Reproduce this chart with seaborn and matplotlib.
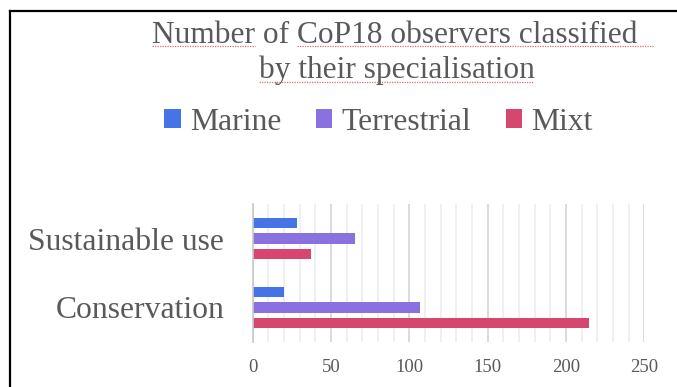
import matplotlib
matplotlib.use("Agg")
import matplotlib.pyplot as plt
from matplotlib.lines import Line2D
import seaborn as sns
import pandas as pd

# Observers per specialisation and category
categories = ["Sustainable use", "Conservation"]
marine = [28, 20]
terrestrial = [65, 107]
mixt = [37, 215]
series_names = ["Marine", "Terrestrial", "Mixt"]
series_colors = ["#4674E6", "#8A71E0", "#D5476F"]
x_ticks = [0, 50, 100, 150, 200, 250]

title_line1 = "Number of CoP18 observers classified"
title_line2 = "by their specialisation"

df = pd.DataFrame({
    "category": categories * 3,
    "type": [series_names[0]] * 2 + [series_names[1]] * 2 + [series_names[2]] * 2,
    "count": marine + terrestrial + mixt,
})

sns.set_theme(style="white")
plt.rcParams["font.family"] = ["Liberation Serif", "DejaVu Serif"]
text_color = "#595959"

W, H = 677, 387
fig = plt.figure(figsize=(W / 100, H / 100), dpi=100)
ax = fig.add_axes([252.7 / W, 1 - 342 / H, (644.3 - 252.7) / W, (342 - 204) / H])

sns.barplot(
    data=df, x="count", y="category", hue="type",
    order=categories, hue_order=series_names, palette=series_colors,
    saturation=1, orient="h", width=0.68, gap=0.33, linewidth=0, ax=ax,
)

ax.set_xlim(0, 250)
ax.set_ylim(1.5, -0.5)
ax.set_xlabel("")
ax.set_ylabel("")

# Vertical gridlines: strong every 50, faint every 10
ax.set_xticks(x_ticks)
ax.set_xticks(range(0, 251, 10), minor=True)
ax.set_axisbelow(True)
ax.grid(which="major", axis="x", color="#d4d4d4", lw=1.2)
ax.grid(which="minor", axis="x", color="#ececec", lw=1.2)
ax.grid(which="both", axis="y", visible=False)
ax.tick_params(axis="x", which="both", length=0, labelsize=13.5,
               labelcolor=text_color, pad=12)

# Category labels with boundary tick marks on the left axis
ax.set_yticks([0, 1])
ax.set_yticklabels(categories)
ax.set_yticks([-0.5, 0.5, 1.5], minor=True)
ax.tick_params(axis="y", which="major", length=0, labelsize=22.8,
               labelcolor=text_color, pad=20.5)
ax.tick_params(axis="y", which="minor", length=7, width=1.2, color="#c8c8c8")

for side in ["top", "right", "bottom"]:
    ax.spines[side].set_visible(False)
ax.spines["left"].set_color("#c8c8c8")
ax.spines["left"].set_linewidth(1.2)

# Legend row under the title
leg = ax.get_legend()
handles = leg.legend_handles
leg.remove()
fig.legend(
    handles, series_names, loc="center", bbox_to_anchor=(378.5 / W, 1 - 122 / H),
    ncol=3, frameon=False, fontsize=22.8, labelcolor=text_color,
    handlelength=0.52, handleheight=0.52, handletextpad=0.28,
    columnspacing=1.1, borderaxespad=0, borderpad=0,
)

# Two-line title
title_size = 22.6
t1 = fig.text(395 / W, 1 - 43 / H, title_line1, ha="center", va="baseline",
              fontsize=title_size, color=text_color)
t2 = fig.text(396.5 / W, 1 - 78 / H, title_line2, ha="center", va="baseline",
              fontsize=title_size, color=text_color)

# Dotted red proofing underlines beneath the title words
fig.canvas.draw()
renderer = fig.canvas.get_renderer()


def text_width(s):
    probe = fig.text(0, 0, s, fontsize=title_size)
    w = probe.get_window_extent(renderer).width
    probe.remove()
    return w


b1 = t1.get_window_extent(renderer)
b2 = t2.get_window_extent(renderer)
w_number = text_width("Number")
w_number_of = text_width("Number of ")
w_space = text_width("a a") - text_width("aa")
segments = [
    (b1.x0, b1.x0 + w_number, H - 46),
    (b1.x0 + w_number_of, b1.x1 + w_space * 2, H - 46),
    (b2.x0, b2.x1, H - 82),
]
squiggle = dict(color="#e86a6a", lw=0.9, ls=(0, (1, 1)), transform=fig.transFigure)
for x0, x1, y in segments:
    fig.add_artist(Line2D([x0 / W, x1 / W], [y / H, y / H], **squiggle))

# Black frame along the top and left edges
frame = dict(color="black", lw=1.6, transform=fig.transFigure, solid_capstyle="projecting")
fig.add_artist(Line2D([10 / W, 1.0], [1 - 10.5 / H, 1 - 10.5 / H], **frame))
fig.add_artist(Line2D([10 / W, 10 / W], [0, 1 - 10.5 / H], **frame))

fig.savefig("out.png", dpi=100)
